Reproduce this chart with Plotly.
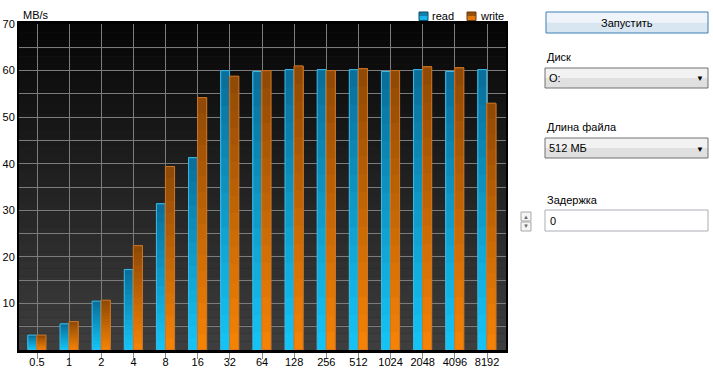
import plotly.graph_objects as go

# ---------------- data ----------------
categories = ["0.5", "1", "2", "4", "8", "16", "32", "64", "128", "256", "512", "1024", "2048", "4096", "8192"]
read_vals = [3.2, 5.6, 10.5, 17.3, 31.4, 41.3, 60.0, 59.8, 60.2, 60.2, 60.2, 59.8, 60.2, 59.8, 60.2]
write_vals = [3.2, 6.1, 10.7, 22.4, 39.4, 54.2, 58.8, 60.0, 61.0, 60.0, 60.4, 60.0, 60.8, 60.6, 53.0]
y_tick_vals = [10, 20, 30, 40, 50, 60, 70]
series_names = ["read", "write"]

W, H = 713, 369
N_SLICES = 16


def X(px):
    return px / W


def Y(py):
    return 1 - py / H


def lerp(c1, c2, t):
    a = [int(c1[i:i + 2], 16) for i in (1, 3, 5)]
    b = [int(c2[i:i + 2], 16) for i in (1, 3, 5)]
    return "rgb(%d,%d,%d)" % tuple(round(a[i] + (b[i] - a[i]) * t) for i in range(3))


xs = list(range(len(categories)))
fig = go.Figure()

styles = {
    "read": dict(bottom="#14c6f8", top="#0a6d98", edge="#3bb9e6", offset=-0.285, width=0.275),
    "write": dict(bottom="#f78405", top="#8e4805", edge="#c8752a", offset=-0.005, width=0.285),
}

for name, vals in zip(series_names, (read_vals, write_vals)):
    st = styles[name]
    for k in range(N_SLICES):
        t = (k + 0.5) / N_SLICES
        # each slice runs from its base to the bar top; later (darker) slices cover upper parts
        fig.add_trace(go.Bar(
            x=xs,
            y=[v * (N_SLICES - k) / N_SLICES for v in vals],
            base=[v * k / N_SLICES for v in vals],
            offset=st["offset"], width=st["width"],
            marker=dict(color=lerp(st["bottom"], st["top"], t), line=dict(width=0)),
            showlegend=False, hoverinfo="skip", legendgroup=name,
        ))
    # outline
    fig.add_trace(go.Bar(
        x=xs, y=vals, offset=st["offset"], width=st["width"],
        marker=dict(color="rgba(0,0,0,0)", line=dict(color=st["edge"], width=1)),
        name=name, showlegend=False, legendgroup=name,
    ))

# background gradient in plot area
shapes = []
NB = 40
for i in range(NB):
    t = i / (NB - 1)
    shapes.append(dict(
        type="rect", xref="x domain", yref="y domain", layer="below",
        x0=0, x1=1, y0=i / NB, y1=(i + 1) / NB,
        fillcolor=lerp("#3e3e3e", "#060606", t), line=dict(width=0),
    ))

annotations = []
FONT = "Liberation Sans, Arial, sans-serif"

def rect(x0, y0, x1, y1, fill, line, lw=1):
    shapes.append(dict(type="rect", xref="paper", yref="paper",
                       x0=X(x0), x1=X(x1), y0=Y(y1), y1=Y(y0),
                       fillcolor=fill, line=dict(color=line, width=lw), layer="above"))

def text(px, py, s, anchor="left", size=11, color="#000000"):
    annotations.append(dict(xref="paper", yref="paper", x=X(px), y=Y(py), text=s,
                            showarrow=False, xanchor=anchor, yanchor="middle",
                            font=dict(family=FONT, size=size, color=color)))

# ---------- legend (top right) ----------
rect(419, 12, 428, 16, "#1180b0", "rgba(0,0,0,0)", 0)
rect(419, 16, 428, 20.5, "#19b4ea", "rgba(0,0,0,0)", 0)
rect(419, 12, 428, 20.5, "rgba(0,0,0,0)", "#0a4a66", 1)
text(430, 16, series_names[0])
rect(467, 12, 476, 16, "#9a5006", "rgba(0,0,0,0)", 0)
rect(467, 16, 476, 20.5, "#e2780a", "rgba(0,0,0,0)", 0)
rect(467, 12, 476, 20.5, "rgba(0,0,0,0)", "#6a3a0a", 1)
text(478, 16, series_names[1])

# --------- right-hand control panel ---------
# button
rect(546, 12, 708, 22.5, "#eef4fa", "rgba(0,0,0,0)", 0)
rect(546, 22.5, 708, 33, "#d8e6f2", "rgba(0,0,0,0)", 0)
rect(546, 12, 708, 33, "rgba(0,0,0,0)", "#3c7fb1", 1)
text(627, 22.5, "Запустить", anchor="center")

# disk combo
text(545, 57, "Диск")
rect(545, 68, 708, 78, "#f2f2f2", "rgba(0,0,0,0)", 0)
rect(545, 78, 708, 88, "#e0e0e0", "rgba(0,0,0,0)", 0)
rect(545, 68, 708, 88, "rgba(0,0,0,0)", "#707070", 1)
text(547, 78, "O:")
text(700, 79, "▼", anchor="center", size=8)

# file length combo
text(545, 127, "Длина файла")
rect(545, 138, 708, 148, "#f2f2f2", "rgba(0,0,0,0)", 0)
rect(545, 148, 708, 158, "#e0e0e0", "rgba(0,0,0,0)", 0)
rect(545, 138, 708, 158, "rgba(0,0,0,0)", "#707070", 1)
text(547, 148, "512 МБ")
text(700, 149, "▼", anchor="center", size=8)

# delay
text(545, 200, "Задержка")
rect(545, 210, 708, 231, "#ffffff", "#abadb3", 1)
text(548, 220.5, "0")
rect(521, 212, 531, 221, "#f4f4f4", "#a8a8a8", 1)
rect(521, 222, 531, 231, "#f4f4f4", "#a8a8a8", 1)
text(526, 216.5, "▲", anchor="center", size=6, color="#6a6a6a")
text(526, 226.5, "▼", anchor="center", size=6, color="#6a6a6a")

# axis title
text(21, 15, "MB/s")

axis_font = dict(family=FONT, size=11, color="#000000")

fig.update_layout(
    width=W, height=H,
    margin=dict(l=0, r=0, t=0, b=0),
    paper_bgcolor="#ffffff",
    plot_bgcolor="#202020",
    barmode="overlay",
    shapes=shapes,
    annotations=annotations,
    showlegend=False,
    xaxis=dict(
        domain=[X(19), X(506)],
        range=[-0.56, 14.59],
        tickmode="array", tickvals=xs, ticktext=categories,
        showgrid=True, gridcolor="#7c7c7c", gridwidth=1,
        showline=True, linecolor="#000000", linewidth=3, mirror=True,
        ticks="outside", ticklen=6, tickcolor="#8a8a8a", ticklabelstandoff=-6,
        tickfont=axis_font, zeroline=False, automargin=False,
    ),
    yaxis=dict(
        domain=[Y(350), Y(24)],
        range=[0, 70],
        tickmode="array", tickvals=y_tick_vals,
        showgrid=True, gridcolor="#7c7c7c", gridwidth=1,
        minor=dict(dtick=5, tick0=0, showgrid=True, gridcolor="#7c7c7c", gridwidth=1),
        showline=True, linecolor="#000000", linewidth=2, mirror=True,
        ticks="", tickfont=axis_font, zeroline=False, automargin=False,
    ),
)

fig.write_html("out.html", config={"displayModeBar": False},
               post_script="document.body.style.margin='0';")
